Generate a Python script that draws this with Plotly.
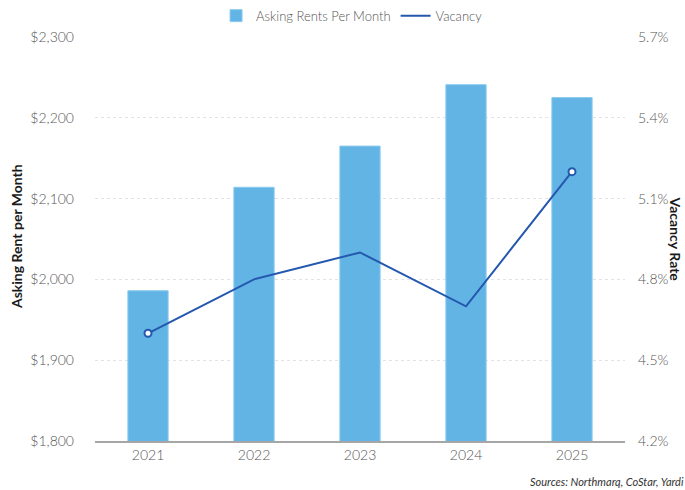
import plotly.graph_objects as go

years = ["2021", "2022", "2023", "2024", "2025"]
asking_rent = [1986, 2114, 2165, 2241, 2225]
vacancy = [4.6, 4.8, 4.9, 4.7, 5.2]

rent_ticks = [1800, 1900, 2000, 2100, 2200, 2300]
rent_labels = ["$1,800", "$1,900", "$2,000", "$2,100", "$2,200", "$2,300"]
vac_ticks = [4.2, 4.5, 4.8, 5.1, 5.4, 5.7]
vac_labels = ["4.2%", "4.5%", "4.8%", "5.1%", "5.4%", "5.7%"]

BAR = "#62B4E4"
LINE = "#2457AE"
TICK = "#555555"
FONT = "Lato"

fig = go.Figure()
fig.add_trace(go.Bar(
    x=years, y=asking_rent, name="Asking Rents Per Month",
    marker=dict(color=BAR, line=dict(color="#8CCBF0", width=1)),
    width=0.38, yaxis="y",
))
fig.add_trace(go.Scatter(
    x=years, y=vacancy, name="Vacancy", yaxis="y2",
    mode="lines", line=dict(color=LINE, width=2),
))
# hollow markers on the first and last vacancy points
ends = [0, len(years) - 1]
fig.add_trace(go.Scatter(
    x=[years[i] for i in ends], y=[vacancy[i] for i in ends], yaxis="y2",
    mode="markers", showlegend=False, hoverinfo="skip",
    marker=dict(size=7, color="white", line=dict(color=LINE, width=2)),
))

tick_font = dict(size=14, color=TICK, weight=300)

fig.update_layout(
    width=685, height=490,
    margin=dict(l=95, r=60, t=37, b=49, autoexpand=False),
    paper_bgcolor="white", plot_bgcolor="white",
    font=dict(family=FONT, color=TICK, size=14, weight=300),
    showlegend=True,
    legend=dict(orientation="h", x=0.485, xanchor="center",
                yref="container", y=0.968, yanchor="middle",
                font=dict(size=13, color=TICK, weight=300), bgcolor="rgba(0,0,0,0)",
                itemwidth=30, traceorder="normal"),
    xaxis=dict(showline=True, linecolor="#A6A6A6", linewidth=1.5,
               showgrid=False, ticks="", tickfont=tick_font, fixedrange=True),
    yaxis=dict(range=[1800, 2300], tickvals=rent_ticks, ticktext=rent_labels,
               showgrid=True, gridcolor="#E3E3E3", griddash="dot", gridwidth=1,
               zeroline=False, ticks="", ticklabelstandoff=20, tickfont=tick_font),
    yaxis2=dict(range=[4.2, 5.7], tickvals=vac_ticks, ticktext=vac_labels,
                overlaying="y", side="right", showgrid=False, zeroline=False,
                ticks="", ticklabelstandoff=12, tickfont=tick_font),
    bargap=0.62,
)

fig.add_annotation(text="<b>Asking Rent per Month</b>", xref="paper", yref="paper",
                   x=-0.147, y=0.505, xanchor="center", yanchor="middle",
                   textangle=-90, showarrow=False,
                   font=dict(size=14, color="#1a1a1a", weight=700))
fig.add_annotation(text="<b>Vacancy Rate</b>", xref="paper", yref="paper",
                   x=1.097, y=0.5, xanchor="center", yanchor="middle",
                   textangle=90, showarrow=False,
                   font=dict(size=14, color="#1a1a1a", weight=700))
fig.add_annotation(text="<i>Sources: Northmarq, CoStar, Yardi</i>", xref="paper", yref="paper",
                   x=1.115, y=-0.08, xanchor="right", yanchor="top",
                   showarrow=False, font=dict(size=11, color="#333333", weight=400))

fig.write_html("out.html")
